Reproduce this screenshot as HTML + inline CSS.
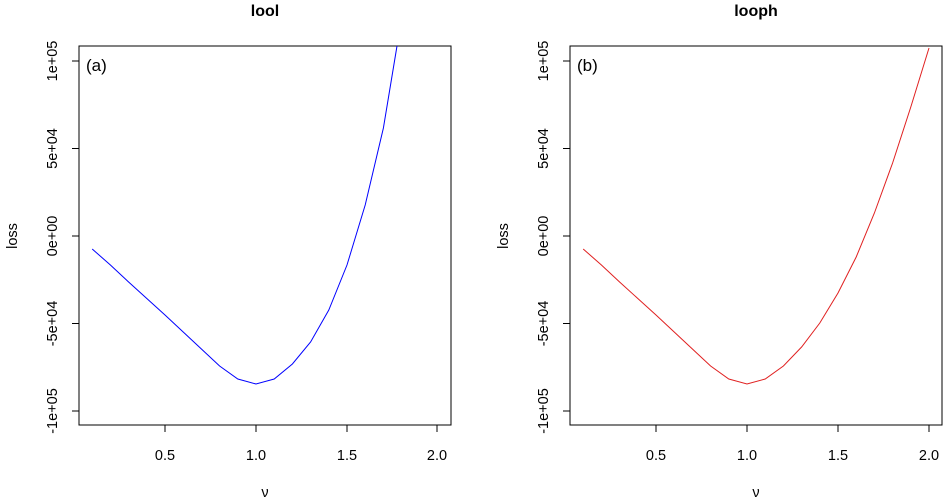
<!DOCTYPE html>
<html><head><meta charset="utf-8"><style>body{margin:0;background:#fff}svg{display:block}text{font-family:"Liberation Sans",sans-serif;fill:#000}</style></head><body>
<svg width="944" height="504" viewBox="0 0 944 504">
<g id="L">
<text x="265" y="16" font-size="16" font-weight="bold" text-anchor="middle">lool</text>
<rect x="79" y="46" width="372" height="379" fill="none" stroke="#000" stroke-width="1"/>
<g stroke="#000"><line x1="165" y1="425" x2="165" y2="432"/><line x1="256" y1="425" x2="256" y2="432"/><line x1="347" y1="425" x2="347" y2="432"/><line x1="437" y1="425" x2="437" y2="432"/>
<line x1="72" y1="61" x2="79" y2="61"/><line x1="72" y1="148.5" x2="79" y2="148.5"/><line x1="72" y1="236" x2="79" y2="236"/><line x1="72" y1="323.5" x2="79" y2="323.5"/><line x1="72" y1="411" x2="79" y2="411"/></g>
<g font-size="14.5" text-anchor="middle"><text x="165" y="460">0.5</text><text x="256" y="460">1.0</text><text x="347" y="460">1.5</text><text x="437" y="460">2.0</text>
<text transform="translate(57,61) rotate(-90)">1e+05</text><text transform="translate(57,148.5) rotate(-90)">5e+04</text><text transform="translate(57,236) rotate(-90)">0e+00</text><text transform="translate(57,323.5) rotate(-90)">-5e+04</text><text transform="translate(57,411) rotate(-90)">-1e+05</text>
<text transform="translate(17,236) rotate(-90)">loss</text><text x="265" y="497" font-family="Liberation Serif">ν</text></g>
<text x="86" y="71" font-size="17">(a)</text>
<polyline fill="none" stroke="#0000ff" stroke-width="1" points="92.2,249 110.4,265 128.6,282 146.8,298.5 165,315 183.2,332 201.4,349 219.6,366 237.8,379 256,384 274.2,379 292.4,364 310.6,342 328.8,310 347,265 365.2,205 383.4,128 397,46"/>
</g>
<g transform="translate(491,0)">
<text x="265" y="16" font-size="16" font-weight="bold" text-anchor="middle">looph</text>
<rect x="79" y="46" width="372" height="379" fill="none" stroke="#000" stroke-width="1"/>
<g stroke="#000"><line x1="165" y1="425" x2="165" y2="432"/><line x1="256" y1="425" x2="256" y2="432"/><line x1="347" y1="425" x2="347" y2="432"/><line x1="438" y1="425" x2="438" y2="432"/>
<line x1="72" y1="61" x2="79" y2="61"/><line x1="72" y1="148.5" x2="79" y2="148.5"/><line x1="72" y1="236" x2="79" y2="236"/><line x1="72" y1="323.5" x2="79" y2="323.5"/><line x1="72" y1="411" x2="79" y2="411"/></g>
<g font-size="14.5" text-anchor="middle"><text x="165" y="460">0.5</text><text x="256" y="460">1.0</text><text x="347" y="460">1.5</text><text x="438" y="460">2.0</text>
<text transform="translate(57,61) rotate(-90)">1e+05</text><text transform="translate(57,148.5) rotate(-90)">5e+04</text><text transform="translate(57,236) rotate(-90)">0e+00</text><text transform="translate(57,323.5) rotate(-90)">-5e+04</text><text transform="translate(57,411) rotate(-90)">-1e+05</text>
<text transform="translate(17,236) rotate(-90)">loss</text><text x="265" y="497" font-family="Liberation Serif">ν</text></g>
<text x="86" y="71" font-size="17">(b)</text>
<polyline fill="none" stroke="#e02020" stroke-width="1" points="92.2,249 110.4,265 128.6,282 146.8,298.5 165,315 183.2,332 201.4,349 219.6,366 237.8,379 256,384 274.2,379 292.4,366 310.6,347 328.8,323 347,293 365.2,257 383.4,213 401.6,163 419.8,107 438,48"/>
</g>
</svg>
</body></html>
